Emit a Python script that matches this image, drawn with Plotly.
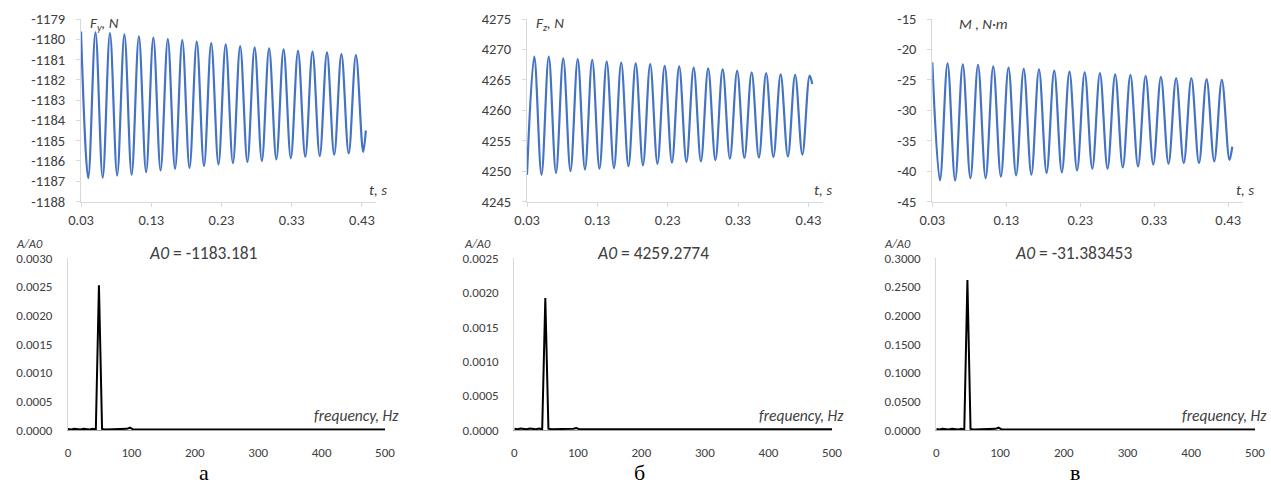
import plotly.graph_objects as go

# ---------------------------------------------------------------------------
# Time signals: instants of successive extrema (s) and the load values there
# ---------------------------------------------------------------------------
t_s = [0.0300, 0.0403, 0.0506, 0.0609, 0.0712, 0.0815, 0.0918, 0.1021, 0.1124, 0.1227,
       0.1330, 0.1433, 0.1536, 0.1639, 0.1742, 0.1845, 0.1948, 0.2051, 0.2154, 0.2257,
       0.2360, 0.2463, 0.2566, 0.2669, 0.2772, 0.2875, 0.2978, 0.3081, 0.3184, 0.3287,
       0.3390, 0.3493, 0.3596, 0.3699, 0.3802, 0.3905, 0.4008, 0.4111, 0.4214, 0.4317,
       0.4355]

# Fy, N (peak, trough, peak, ...)
fy_N = [-1179.62, -1186.85, -1179.66, -1186.83, -1179.70, -1186.72, -1179.76, -1186.68,
        -1179.86, -1186.55, -1179.92, -1186.47, -1179.99, -1186.39, -1180.04, -1186.34,
        -1180.12, -1186.25, -1180.19, -1186.17, -1180.25, -1186.11, -1180.34, -1186.05,
        -1180.40, -1186.00, -1180.45, -1185.92, -1180.50, -1185.86, -1180.57, -1185.79,
        -1180.61, -1185.76, -1180.65, -1185.69, -1180.73, -1185.63, -1180.78, -1185.56,
        -1184.50]

# Fz, N (trough, peak, trough, ...)
fz_N = [4249.4, 4268.8, 4249.4, 4268.8, 4249.7, 4268.55, 4250.0, 4268.4,
        4250.25, 4268.3, 4250.4, 4268.0, 4250.5, 4267.85, 4250.8, 4267.7,
        4250.95, 4267.6, 4251.2, 4267.3, 4251.4, 4267.2, 4251.5, 4267.0,
        4251.6, 4266.9, 4251.8, 4266.75, 4252.05, 4266.5, 4252.15, 4266.25,
        4252.2, 4266.1, 4252.3, 4265.9, 4252.4, 4265.8, 4252.7, 4265.7,
        4264.3]

# M, N·m (peak, trough, peak, ...)
m_Nm = [-22.1, -41.55, -22.27, -41.55, -22.45, -41.16, -22.55, -41.16,
        -22.8, -40.9, -23.0, -40.7, -23.2, -40.6, -23.26, -40.3,
        -23.5, -40.2, -23.65, -39.9, -23.75, -39.6, -23.9, -39.6,
        -24.1, -39.4, -24.2, -39.25, -24.35, -38.95, -24.5, -38.8,
        -24.7, -38.7, -24.7, -38.7, -24.9, -38.4, -25.0, -38.15,
        -36.0]

# ---------------------------------------------------------------------------
# Amplitude spectra (A/A0) against frequency, Hz
# ---------------------------------------------------------------------------
freq_Hz = [0, 4.9, 9.8, 14.6, 19.5, 24.4, 29.3, 34.2, 39.1, 43.9, 48.8, 53.7,
           58.6, 63.5, 68.4, 73.2, 78.1, 83.0, 87.9, 92.8, 97.7, 102.5, 107.4, 500]
spec_fy = [0.00002, 0.00001, 0.00002, 0.00001, 0.00001, 0.00002, 0.00001, 0.00001,
           0.00002, 0.00001, 0.00253, 0.00002, 0.00001, 0.00001, 0.00002, 0.00001,
           0.00002, 0.00001, 0.00001, 0.00002, 0.00004, 0.00001, 0.00001, 0.00001]
spec_fz = [0.00002, 0.00001, 0.00002, 0.00001, 0.00001, 0.00002, 0.00001, 0.00001,
           0.00002, 0.00001, 0.00192, 0.00002, 0.00001, 0.00001, 0.00002, 0.00001,
           0.00002, 0.00001, 0.00001, 0.00002, 0.00003, 0.00001, 0.00001, 0.00001]
spec_m = [0.002, 0.001, 0.002, 0.001, 0.001, 0.002, 0.001, 0.001,
          0.002, 0.001, 0.262, 0.002, 0.001, 0.001, 0.002, 0.001,
          0.002, 0.001, 0.001, 0.002, 0.004, 0.001, 0.001, 0.001]

# ---------------------------------------------------------------------------
# Tick values and labels
# ---------------------------------------------------------------------------
t_ticks = [0.03, 0.13, 0.23, 0.33, 0.43]
t_ticktext = ["0.03", "0.13", "0.23", "0.33", "0.43"]
fy_ticks = [-1188, -1187, -1186, -1185, -1184, -1183, -1182, -1181, -1180, -1179]
fy_ticktext = ["-1188", "-1187", "-1186", "-1185", "-1184", "-1183", "-1182", "-1181", "-1180", "-1179"]
fz_ticks = [4245, 4250, 4255, 4260, 4265, 4270, 4275]
fz_ticktext = ["4245", "4250", "4255", "4260", "4265", "4270", "4275"]
m_ticks = [-45, -40, -35, -30, -25, -20, -15]
m_ticktext = ["-45", "-40", "-35", "-30", "-25", "-20", "-15"]
f_ticks = [0, 100, 200, 300, 400, 500]
f_ticktext = ["0", "100", "200", "300", "400", "500"]
sfy_ticks = [0, 0.0005, 0.0010, 0.0015, 0.0020, 0.0025, 0.0030]
sfy_ticktext = ["0.0000", "0.0005", "0.0010", "0.0015", "0.0020", "0.0025", "0.0030"]
sfz_ticks = [0, 0.0005, 0.0010, 0.0015, 0.0020, 0.0025]
sfz_ticktext = ["0.0000", "0.0005", "0.0010", "0.0015", "0.0020", "0.0025"]
sm_ticks = [0, 0.05, 0.10, 0.15, 0.20, 0.25, 0.30]
sm_ticktext = ["0.0000", "0.0500", "0.1000", "0.1500", "0.2000", "0.2500", "0.3000"]

W, H = 1271, 484
FONT = "Carlito, Roboto, sans-serif"
TXT = "#404040"
AXIS = "#d9d9d9"
BLUE = "#4472C4"


def px(x):
    return x / W


def py(y):
    return 1 - y / H


fig = go.Figure()

# time-domain curves
for i, yv in enumerate([fy_N, fz_N, m_Nm], start=1):
    fig.add_trace(go.Scatter(
        x=t_s, y=yv, mode="lines",
        line=dict(color=BLUE, width=2.2, shape="spline", smoothing=1),
        xaxis=f"x{i}", yaxis=f"y{i}", showlegend=False, hoverinfo="skip"))

# spectra
for i, yv in enumerate([spec_fy, spec_fz, spec_m], start=4):
    fig.add_trace(go.Scatter(
        x=freq_Hz, y=yv, mode="lines",
        line=dict(color="black", width=2),
        xaxis=f"x{i}", yaxis=f"y{i}", showlegend=False, hoverinfo="skip"))

top_tick_font = dict(family=FONT, size=14.5, color=TXT)
bot_tick_font = dict(family=FONT, size=13, color=TXT)


def time_xaxis(x0, x1, anchor):
    return dict(domain=[px(x0), px(x1)], range=[0.03, 0.45], anchor=anchor,
                tickmode="array", tickvals=t_ticks, ticktext=t_ticktext,
                showline=True, linecolor=AXIS, linewidth=1,
                ticks="outside", ticklen=4, tickcolor=AXIS,
                showgrid=False, zeroline=False, tickfont=top_tick_font,
                ticklabelstandoff=1, automargin=False, layer="below traces")


def value_yaxis(vals, text, anchor):
    return dict(domain=[py(201.5), py(19)], range=[vals[0], vals[-1]], anchor=anchor,
                tickmode="array", tickvals=vals, ticktext=text,
                showline=True, linecolor=AXIS, linewidth=1,
                ticks="outside", ticklen=4, tickcolor=AXIS,
                showgrid=False, zeroline=False, tickfont=top_tick_font,
                ticklabelstandoff=8, automargin=False, layer="below traces")


def freq_xaxis(x0, x1, anchor):
    return dict(domain=[px(x0), px(x1)], range=[0, 500], anchor=anchor,
                tickmode="array", tickvals=f_ticks, ticktext=f_ticktext,
                showline=True, linecolor="#a6a6a6", linewidth=1, ticks="",
                showgrid=False, zeroline=False, tickfont=bot_tick_font,
                ticklabelstandoff=10, automargin=False, layer="below traces")


def spec_yaxis(vals, text, anchor):
    return dict(domain=[py(430), py(258.3)], range=[vals[0], vals[-1]], anchor=anchor,
                tickmode="array", tickvals=vals, ticktext=text,
                showline=True, linecolor=AXIS, linewidth=1, ticks="",
                showgrid=False, zeroline=False, tickfont=bot_tick_font,
                ticklabelstandoff=12, automargin=False, layer="below traces")


layout = dict(
    width=W, height=H,
    margin=dict(l=0, r=0, t=0, b=0, autoexpand=False),
    paper_bgcolor="white", plot_bgcolor="white",
    showlegend=False,
    xaxis1=time_xaxis(81, 376, "y1"),
    yaxis1=value_yaxis(fy_ticks, fy_ticktext, "x1"),
    xaxis2=time_xaxis(527, 822.5, "y2"),
    yaxis2=value_yaxis(fz_ticks, fz_ticktext, "x2"),
    xaxis3=time_xaxis(932.3, 1243, "y3"),
    yaxis3=value_yaxis(m_ticks, m_ticktext, "x3"),
    xaxis4=freq_xaxis(68, 385, "y4"),
    yaxis4=spec_yaxis(sfy_ticks, sfy_ticktext, "x4"),
    xaxis5=freq_xaxis(514.3, 832, "y5"),
    yaxis5=spec_yaxis(sfz_ticks, sfz_ticktext, "x5"),
    xaxis6=freq_xaxis(936.3, 1255, "y6"),
    yaxis6=spec_yaxis(sm_ticks, sm_ticktext, "x6"),
)
fig.update_layout(**layout)


def note(text, x, y, size=15, xanchor="left", family=FONT, color=TXT):
    fig.add_annotation(text=text, x=px(x), y=py(y), xref="paper", yref="paper",
                       xanchor=xanchor, yanchor="middle", showarrow=False,
                       font=dict(family=family, size=size, color=color))


# axis captions of the time plots
note("<i>F<sub>y</sub>, N</i>", 88, 24)
note("<i>F<sub>z</sub>, N</i>", 534, 24)
note("<i>M , N·m</i>", 957, 24)
for xr in (389, 834, 1256):
    note("<i>t, s</i>", xr, 190, xanchor="right")

# captions of the spectra
for xl in (14, 462, 882):
    note("<i>A/A0</i>", xl, 243, size=12.5)
note("<i>A0</i> = -1183.181", 147, 253, size=17.5)
note("<i>A0</i> = 4259.2774", 595, 253, size=17.5)
note("<i>A0</i> = -31.383453", 1013, 253, size=17.5)
for xr in (401, 846, 1269):
    note("<i>frequency, Hz</i>", xr, 415, size=15.5, xanchor="right")

# panel letters
for letter, xc in (("а", 204), ("б", 639), ("в", 1075)):
    note(letter, xc, 472, size=22, xanchor="center", family="Liberation Serif", color="black")

fig.write_html("out.html")
